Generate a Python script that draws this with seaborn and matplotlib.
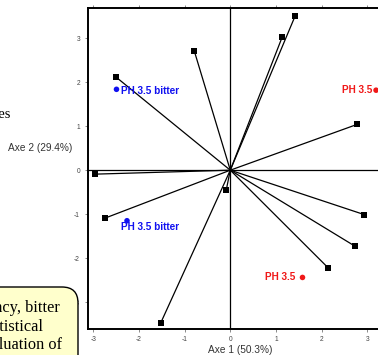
import matplotlib
matplotlib.use('Agg')
import matplotlib.pyplot as plt
import seaborn as sns
import pandas as pd
from matplotlib.patches import FancyBboxPatch

# variable loadings (squares), joined to the origin
var_x = [-2.49, -0.79, 1.14, 1.42, 2.77, 2.93, 2.73, 2.14, -0.09, -1.52, -2.74, -2.96]
var_y = [2.11, 2.72, 3.04, 3.51, 1.04, -1.01, -1.73, -2.22, -0.46, -3.47, -1.09, -0.09]

# observations (dots)
obs_x = [-2.49, -2.26, 3.19, 1.58]
obs_y = [1.84, -1.15, 1.82, -2.44]
obs_labels = ['PH 3.5 bitter', 'PH 3.5 bitter', 'PH 3.5', 'PH 3.5']
obs_group = ['bitter', 'bitter', 'plain', 'plain']

x_ticks = [-3, -2, -1, 0, 1, 2, 3]
y_ticks = [-3, -2, -1, 0, 1, 2, 3]
x_label = 'Axe 1 (50.3%)'
y_label = 'Axe 2 (29.4%)'
box_lines = ['ency, bitter', 'statistical', 'evaluation of']
side_text = 'ues'

sns.set_style('white')
plt.rcParams['font.family'] = ['Liberation Sans', 'DejaVu Sans']
plt.rcParams['axes.unicode_minus'] = False

W, H = 378, 355
fig = plt.figure(figsize=(W / 100, H / 100), dpi=100)
fig.patch.set_facecolor('white')

# axes placement in pixels
x0_px, y_top_px, y_bot_px = 87.7, 8.0, 329.3
xlim = (-3.12, 3.5)
ylim = (-3.62, 3.69)
ppu_x = 45.7
width_px = (xlim[1] - xlim[0]) * ppu_x
ax = fig.add_axes([x0_px / W, 1 - y_bot_px / H, width_px / W, (y_bot_px - y_top_px) / H])

ax.axhline(0, color='black', lw=0.9, zorder=1)
ax.axvline(0, color='black', lw=0.9, zorder=1)

for vx, vy in zip(var_x, var_y):
    ax.plot([0, vx], [0, vy], color='black', lw=0.9, zorder=2)

df_var = pd.DataFrame({'x': var_x, 'y': var_y})
sns.scatterplot(data=df_var, x='x', y='y', ax=ax, marker='s', s=24,
                color='black', edgecolor='black', linewidth=0, zorder=3)

df_obs = pd.DataFrame({'x': obs_x, 'y': obs_y, 'label': obs_labels, 'group': obs_group})
palette = {'bitter': '#1010f0', 'plain': '#f01818'}
sns.scatterplot(data=df_obs, x='x', y='y', hue='group', palette=palette, ax=ax,
                s=16, linewidth=0, legend=False, zorder=4)

offsets = [((3, -1), 'left'), ((-4, -4.5), 'left'), ((-3, 0), 'right'), ((-5, 0), 'right')]
for (px, py, lab, grp), (off, ha) in zip(zip(obs_x, obs_y, obs_labels, obs_group), offsets):
    ax.annotate(lab, (px, py), xytext=off, textcoords='offset points', ha=ha, va='center',
                fontsize=7.2, fontweight='bold', color=palette[grp], zorder=5)

ax.set_xlim(*xlim)
ax.set_ylim(*ylim)
ax.set_xticks(x_ticks)
ax.set_yticks(y_ticks)
ax.set_xticklabels([str(t) for t in x_ticks])
ax.set_yticklabels([str(t) for t in y_ticks])
ax.set_xlabel('')
ax.set_ylabel('')
ax.tick_params(axis='both', direction='out', length=2.5, width=0.6, color='#777777',
               labelsize=4.8, labelcolor='#444444')
ax.tick_params(axis='x', top=True, labeltop=False, bottom=True, pad=2.0)
ax.tick_params(axis='y', left=True, pad=3.0)
for sp in ax.spines.values():
    sp.set_color('black')
    sp.set_linewidth(1.4)

fig.text(240.3 / W, 1 - 350 / H, x_label, ha='center', va='center', fontsize=7.3, color='#333333')
fig.text(8.3 / W, 1 - 148.3 / H, y_label, ha='left', va='center', fontsize=7.3, color='#333333')

fig.text(11.0 / W, 1 - 114 / H, side_text, ha='right', va='center', fontsize=10.5,
         family=['Liberation Serif', 'DejaVu Serif'], color='black')

box = FancyBboxPatch((-0.3, -0.3), 0.3 + 0.78, 0.3 + (355 - 287) / 100,
                     boxstyle='round,pad=0,rounding_size=0.16',
                     transform=fig.dpi_scale_trans, facecolor='#ffffcc',
                     edgecolor='black', linewidth=1.0, zorder=10)
fig.patches.append(box)
box.set_figure(fig)

line_rights = [60, 43, 62]
line_ys = [308, 326.7, 345]
for txt, xr, yy in zip(box_lines, line_rights, line_ys):
    fig.text(xr / W, 1 - yy / H, txt, ha='right', va='center', fontsize=11.8,
             family=['Liberation Serif', 'DejaVu Serif'], color='black', zorder=11)

fig.savefig('out.png', dpi=100)
